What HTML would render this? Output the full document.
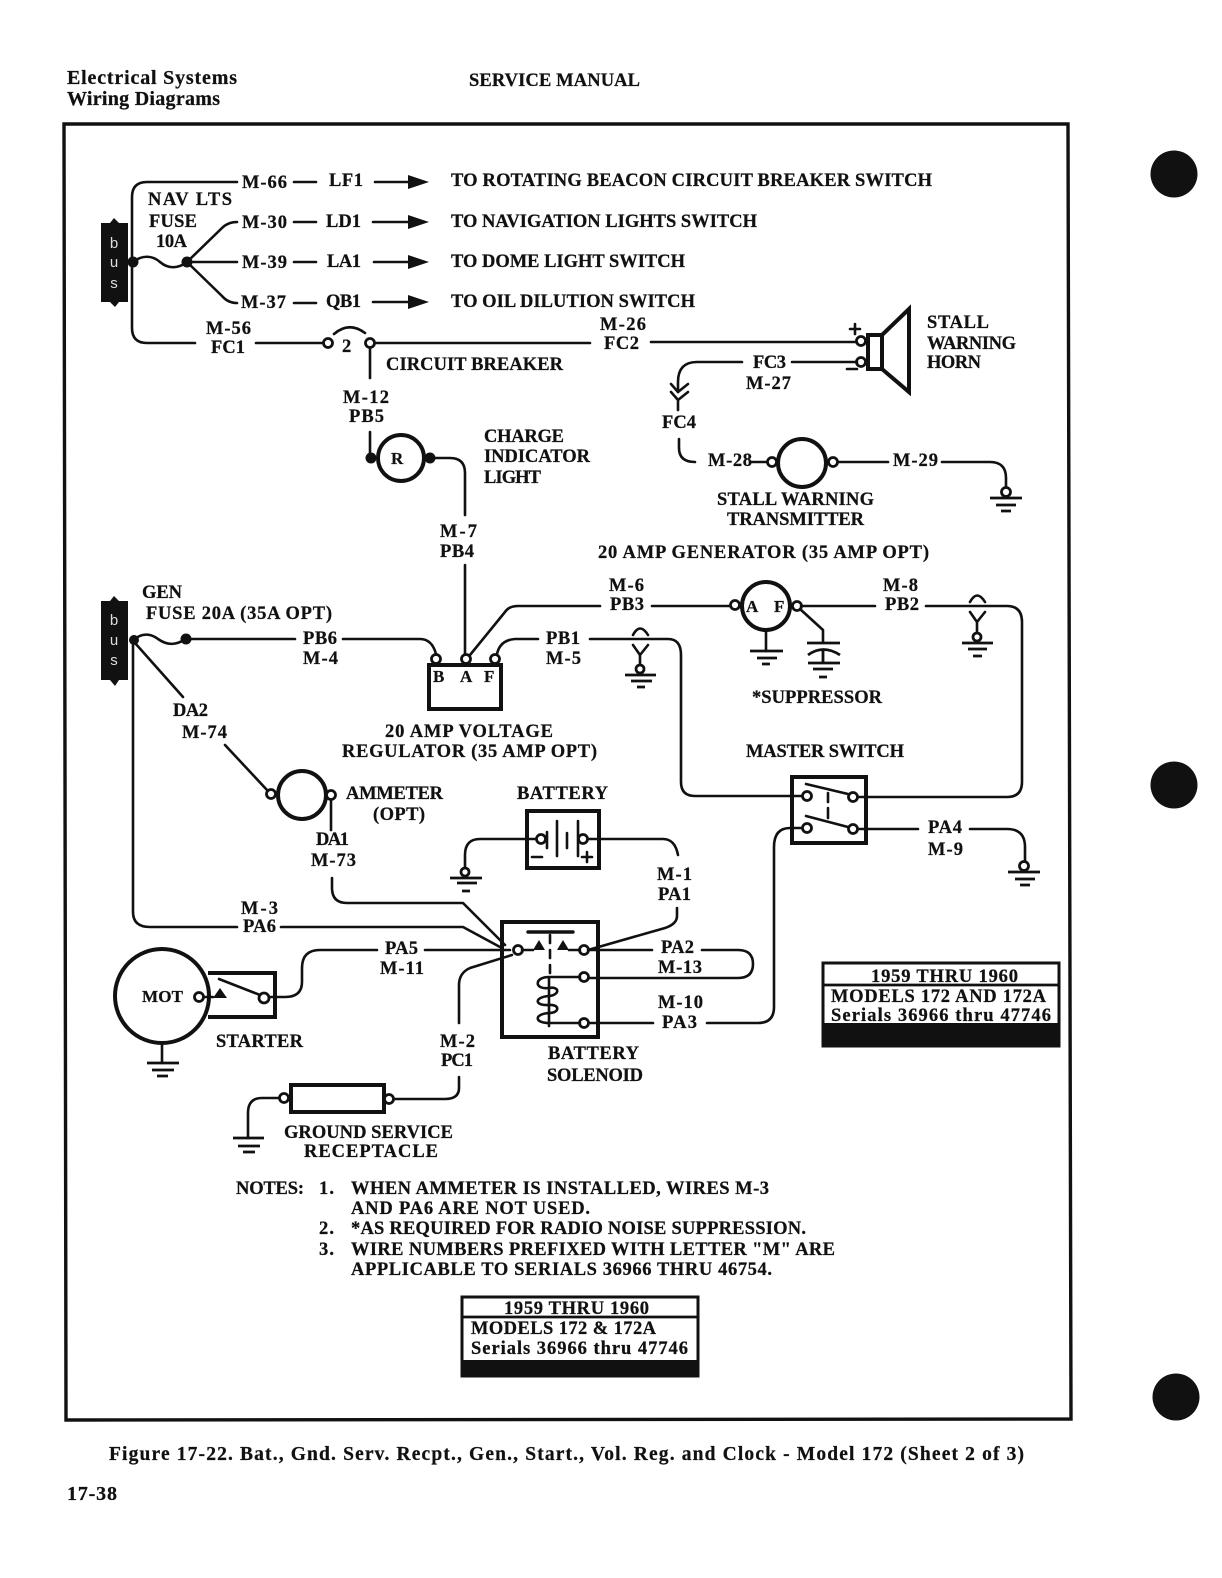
<!DOCTYPE html>
<html><head><meta charset="utf-8"><style>
html,body{margin:0;padding:0;background:#fff}
svg{display:block}
text{font-family:"Liberation Serif",serif;font-weight:bold;font-size:18.5px;fill:#111;stroke:#111;stroke-width:.25}
.w{fill:none;stroke:#111;stroke-width:2.6;stroke-linecap:round;stroke-linejoin:round}
.t{fill:#fff;stroke:#111;stroke-width:2.8}
.b{fill:#111;stroke:none}
.h{fill:none;stroke:#111;stroke-width:4}
.g{fill:none;stroke:#111;stroke-width:2.8}
.s{font-size:17px}
.l{font-size:20px}
text.bus{font-family:"Liberation Sans",sans-serif;font-weight:normal;font-size:15px;fill:#ddd;stroke:none}
</style></head><body>
<svg width="1222" height="1578" viewBox="0 0 1222 1578" xmlns="http://www.w3.org/2000/svg">
<rect width="1222" height="1578" fill="#fff"/>
<text class="l" x="67" y="84" textLength="170">Electrical Systems</text>
<text class="l" x="67" y="105" textLength="153">Wiring Diagrams</text>
<text x="469" y="86" textLength="171">SERVICE MANUAL</text>
<polygon class="h" points="64,124 1068,124 1071,1419 66,1420" style="stroke-width:3.4"/>
<circle class="b" cx="1174" cy="174" r="23.5"/><circle class="b" cx="1174" cy="785" r="23.5"/><circle class="b" cx="1176" cy="1397" r="23.5"/>

<!-- bus 1 -->
<polygon class="b" points="101,223 110,223 114,218 119,223 128,223 128,302 119,302 115,307 110,302 101,302"/>
<text class="bus" x="114" y="248" text-anchor="middle">b</text><text class="bus" x="114" y="267" text-anchor="middle">u</text><text class="bus" x="114" y="288" text-anchor="middle">s</text>
<path class="w" d="M132,262 V197 Q132,182 147,182 H237 M132,262 V328 Q132,343 147,343 H195"/>
<circle class="b" cx="133" cy="262" r="5.5"/>
<path class="w" d="M133,262 C142,255 152,255 160,262 C168,269 178,269 187,262"/>
<circle class="b" cx="187" cy="262" r="5.5"/>
<path class="w" d="M187,262 L222,228 Q228,222 237,222 M187,262 H237 M187,262 L222,296 Q228,303 237,303"/>
<text x="148" y="205" textLength="84">NAV LTS</text><text x="149" y="227" textLength="48">FUSE</text><text x="156" y="247" textLength="31">10A</text>

<text x="242" y="188" textLength="45">M-66</text><path class="w" d="M294,182 H316"/><text x="329" y="186" textLength="34">LF1</text>
<path class="w" d="M375,182 H410"/><polygon class="b" points="408,175 429,182 408,189"/>
<text x="451" y="186" textLength="481">TO ROTATING BEACON CIRCUIT BREAKER SWITCH</text>
<text x="242" y="228" textLength="45">M-30</text><path class="w" d="M294,222 H316"/><text x="326" y="227" textLength="35">LD1</text>
<path class="w" d="M373,222 H410"/><polygon class="b" points="408,215 429,222 408,229"/>
<text x="451" y="227" textLength="306">TO NAVIGATION LIGHTS SWITCH</text>
<text x="242" y="268" textLength="45">M-39</text><path class="w" d="M294,262 H316"/><text x="327" y="267" textLength="34">LA1</text>
<path class="w" d="M374,262 H410"/><polygon class="b" points="408,255 429,262 408,269"/>
<text x="451" y="267" textLength="234">TO DOME LIGHT SWITCH</text>
<text x="241" y="308" textLength="45">M-37</text><path class="w" d="M294,303 H316"/><text x="326" y="307" textLength="35">QB1</text>
<path class="w" d="M373,302 H410"/><polygon class="b" points="408,295 429,302 408,309"/>
<text x="451" y="307" textLength="244">TO OIL DILUTION SWITCH</text>

<!-- breaker line -->
<text x="206" y="334" textLength="45">M-56</text><text x="211" y="353" textLength="34">FC1</text>
<path class="w" d="M256,343 H324"/><circle class="t" cx="328" cy="343" r="4.5"/>
<text x="342" y="352" textLength="10">2</text>
<path class="w" d="M334,334 Q349,321 365,333"/>
<circle class="t" cx="370" cy="343" r="4.5"/>
<path class="w" d="M375,343 H590 M651,342 H857 M370,348 V378"/>
<text x="386" y="370" textLength="177">CIRCUIT BREAKER</text>
<text x="600" y="330" textLength="46">M-26</text><text x="604" y="349" textLength="35">FC2</text>
<text x="343" y="403" textLength="46">M-12</text><text x="349" y="422" textLength="35">PB5</text>
<path class="w" d="M370,432 V458"/><circle class="b" cx="371" cy="458" r="5.5"/>
<circle class="h" cx="401" cy="458" r="23"/><text x="391" y="464" textLength="14" class="s">R</text>
<circle class="b" cx="430" cy="458" r="5.5"/>
<path class="w" d="M430,458 H450 Q465,458 465,473 V515"/>
<text x="484" y="442" textLength="80">CHARGE</text><text x="484" y="462" textLength="106">INDICATOR</text><text x="484" y="483" textLength="57">LIGHT</text>

<!-- horn -->
<circle class="t" cx="861" cy="341" r="4.5"/><circle class="t" cx="861" cy="362" r="4.5"/>
<rect class="h" x="868" y="335" width="14" height="34"/>
<polygon class="h" points="882,335 909,309 909,392 882,369"/>
<path class="w" d="M855,324 V334 M850,329 H860 M847,369 H857"/>
<text x="927" y="328" textLength="62">STALL</text><text x="927" y="349" textLength="89">WARNING</text><text x="927" y="368" textLength="54">HORN</text>
<text x="753" y="368" textLength="33">FC3</text><text x="746" y="389" textLength="45">M-27</text>
<path class="w" d="M792,362 H857 M742,362 H697 Q678,362 678,382 V392"/>
<path class="w" d="M671,384 L678,392 L688,384 M671,392 L678,400 L688,392 M678,400 V410"/>
<text x="662" y="428" textLength="34">FC4</text>
<path class="w" d="M679,439 V448 Q679,462 695,462"/>
<text x="708" y="466" textLength="44">M-28</text>
<path class="w" d="M751,462 H768"/><circle class="t" cx="772" cy="462" r="4.5"/>
<circle class="h" cx="802" cy="463" r="24"/>
<circle class="t" cx="833" cy="462" r="4.5"/>
<path class="w" d="M838,462 H888 M942,462 H990 Q1006,462 1006,478 V487"/>
<text x="893" y="466" textLength="45">M-29</text>
<circle class="t" cx="1006" cy="492" r="4.5"/>
<path class="g" d="M990,498 H1022 M996,505 H1016 M1001,511 H1011"/>
<text x="717" y="505" textLength="157">STALL WARNING</text><text x="727" y="525" textLength="137">TRANSMITTER</text>

<!-- regulator -->
<text x="440" y="537" textLength="37">M-7</text><text x="440" y="557" textLength="34">PB4</text>
<path class="w" d="M465,565 V654"/>
<text x="598" y="558" textLength="331">20 AMP GENERATOR (35 AMP OPT)</text>
<!-- bus 2 -->
<polygon class="b" points="101,601 110,601 114,596 119,601 128,601 128,680 119,680 115,686 110,680 101,680"/>
<text class="bus" x="114" y="625" text-anchor="middle">b</text><text class="bus" x="114" y="645" text-anchor="middle">u</text><text class="bus" x="114" y="665" text-anchor="middle">s</text>
<text x="142" y="598" textLength="40">GEN</text><text x="146" y="619" textLength="186">FUSE 20A (35A OPT)</text>
<circle class="b" cx="134" cy="640" r="5"/>
<path class="w" d="M133,640 C142,633 150,633 158,639 C168,646 176,645 186,639"/><circle class="b" cx="186" cy="639" r="5.5"/>
<path class="w" d="M186,639 H295 M343,639 H420 Q432,639 436,654"/>
<text x="303" y="644" textLength="34">PB6</text><text x="303" y="664" textLength="35">M-4</text>
<circle class="t" cx="436" cy="659" r="4.5"/><circle class="t" cx="466" cy="659" r="4.5"/><circle class="t" cx="495" cy="659" r="4.5"/>
<rect class="h" x="429" y="665" width="72" height="44"/>
<text x="433" y="682" class="s" textLength="13">B</text><text x="460" y="682" class="s" textLength="13">A</text><text x="484" y="682" class="s" textLength="12">F</text>
<path class="w" d="M470,655 L505,612 Q509,606 518,606 H600 M497,654 Q500,640 515,639 H538"/>
<text x="546" y="644" textLength="34">PB1</text><text x="546" y="664" textLength="35">M-5</text>
<path class="w" d="M590,639 H668 Q681,639 681,655 V782 Q681,796 695,796 H803"/>
<path class="w" d="M633,635 Q640,622 648,635 M633,645 L640,655 L648,645 M640,655 V665"/>
<circle class="t" cx="640" cy="669" r="4"/>
<path class="g" d="M625,675 H656 M631,681 H652 M637,687 H645"/>
<text x="385" y="737" textLength="168">20 AMP VOLTAGE</text><text x="342" y="757" textLength="255">REGULATOR (35 AMP OPT)</text>

<!-- generator -->
<text x="609" y="591" textLength="35">M-6</text><text x="610" y="610" textLength="34">PB3</text>
<path class="w" d="M652,606 H731"/><circle class="t" cx="735" cy="605" r="4.5"/>
<circle class="h" cx="766" cy="606" r="24"/>
<text x="746" y="612" class="s" textLength="13">A</text><text x="774" y="612" class="s" textLength="11">F</text>
<circle class="t" cx="797" cy="606" r="4.5"/>
<path class="w" d="M801,606 H875 M926,606 H1007 Q1022,606 1022,622 V782 Q1022,797 1007,797 H858"/>
<text x="883" y="591" textLength="35">M-8</text><text x="885" y="610" textLength="34">PB2</text>
<path class="w" d="M766,630 V651 M800,609 L823,630 V642"/>
<path class="g" d="M750,651 H783 M757,658 H777 M762,664 H770 M807,643 H840 M823,649 V663 M808,663 H840 M813,669 H833 M819,677 H827"/>
<path class="g" d="M808,655 Q823,644 840,655"/>
<path class="w" d="M970,602 Q977,589 985,602 M970,612 L977,622 L985,612 M977,622 V633"/>
<circle class="t" cx="977" cy="637" r="4"/>
<path class="g" d="M962,643 H993 M968,649 H987 M973,656 H982"/>
<text x="752" y="703" textLength="130">*SUPPRESSOR</text>
<text x="746" y="757" textLength="158">MASTER SWITCH</text>

<!-- master switch -->
<rect class="h" x="792" y="777" width="74" height="66"/>
<circle class="t" cx="807" cy="796" r="4.5"/><circle class="t" cx="853" cy="797" r="4.5"/><circle class="t" cx="807" cy="828" r="4.5"/><circle class="t" cx="853" cy="829" r="4.5"/>
<path class="w" d="M806,784 L848,794 M806,816 L848,827 M828,793 V802 M828,808 V818"/>
<path class="w" d="M858,829 H918 M970,829 H1007 Q1025,829 1025,847 V861"/>
<text x="928" y="833" textLength="34">PA4</text><text x="928" y="855" textLength="35">M-9</text>
<circle class="t" cx="1024" cy="866" r="4.5"/>
<path class="g" d="M1008,872 H1040 M1015,879 H1035 M1020,885 H1030"/>

<!-- ammeter -->
<text x="173" y="716" textLength="35">DA2</text><text x="182" y="738" textLength="45">M-74</text>
<path class="w" d="M135,643 L183,697 M225,745 L267,790"/>
<circle class="t" cx="271" cy="794" r="4.5"/><circle class="h" cx="302" cy="795" r="24"/><circle class="t" cx="331" cy="795" r="4.5"/>
<path class="w" d="M331,800 V830"/>
<text x="346" y="799" textLength="97">AMMETER</text><text x="373" y="820" textLength="52">(OPT)</text>
<text x="316" y="845" textLength="33">DA1</text><text x="311" y="866" textLength="45">M-73</text>
<path class="w" d="M332,878 V888 Q332,903 347,903 H463 L505,945"/>
<text x="241" y="914" textLength="37">M-3</text><text x="243" y="932" textLength="33">PA6</text>
<path class="w" d="M133,640 V912 Q133,927 150,927 H237 M281,927 H463 L500,947"/>

<!-- battery -->
<text x="517" y="799" textLength="91">BATTERY</text>
<rect class="h" x="527" y="811" width="72" height="57"/>
<circle class="t" cx="541" cy="839" r="4.5"/><circle class="t" cx="583" cy="839" r="4.5"/>
<path class="w" d="M547,832 V848 M557,821 V856 M567,833 V848 M578,821 V856 M532,857 H542 M582,857 H592 M587,852 V862"/>
<path class="w" d="M536,839 H480 Q465,839 465,855 V868 M588,839 H663 Q675,839 678,855"/>
<circle class="t" cx="465" cy="872" r="4"/>
<path class="g" d="M450,878 H482 M457,883 H477 M462,891 H470"/>
<text x="657" y="880" textLength="35">M-1</text><text x="658" y="900" textLength="33">PA1</text>

<!-- solenoid -->
<rect class="h" x="502" y="922" width="96" height="115"/>
<path class="w" d="M528,932 H573" style="stroke-width:3.4"/>
<polygon class="b" points="539,940 533,950 545,950"/><polygon class="b" points="563,940 557,950 569,950"/>
<circle class="t" cx="518" cy="950" r="4.5"/><circle class="t" cx="584" cy="950" r="4.5"/><circle class="t" cx="584" cy="977" r="4.5"/><circle class="t" cx="584" cy="1023" r="4.5"/>
<path class="w" d="M522,950 H533 M569,950 H580 M550,935 V943 M550,950 V958 M550,965 V973 M550,977 H580 M549,1023 H580"/>
<path class="w" d="M549,977 C534,977 534,990 549,988 C560,986 560,995 549,996 C534,997 534,1006 549,1005 C560,1004 560,1013 549,1013 C534,1014 534,1023 549,1023 M549,977 V1026"/>
<path class="w" d="M677,908 V916 Q677,924 665,928 L588,950 M589,950 H652 M702,950 H738 Q753,950 753,964 Q753,978 738,978 H589 M589,1023 H653 M707,1023 H758 Q774,1023 774,1007 V847 Q774,828 790,828 H802"/>
<text x="661" y="953" textLength="33">PA2</text><text x="658" y="973" textLength="44">M-13</text>
<text x="658" y="1008" textLength="45">M-10</text><text x="662" y="1028" textLength="35">PA3</text>
<text x="548" y="1059" textLength="91">BATTERY</text><text x="547" y="1081" textLength="96">SOLENOID</text>
<path class="w" d="M377,950 H320 Q302,950 302,968 V982 Q302,997 285,997 H268 M425,950 H510"/>
<text x="385" y="954" textLength="33">PA5</text><text x="380" y="974" textLength="44">M-11</text>

<!-- motor / starter -->
<path class="h" d="M208,973 H275 V1017 H208"/>
<circle cx="162" cy="996" r="47" fill="#fff" stroke="#111" stroke-width="4"/>
<text x="142" y="1002" textLength="41" class="s">MOT</text>
<circle class="t" cx="199" cy="997" r="4.5"/><polygon class="b" points="220,988 213,998 227,998"/>
<path class="w" d="M204,997 H213 M219,979 L260,995"/><circle class="t" cx="264" cy="998" r="5"/>
<path class="w" d="M162,1044 V1063"/>
<path class="g" d="M147,1063 H179 M152,1070 H174 M157,1076 H168"/>
<text x="216" y="1047" textLength="87">STARTER</text>
<text x="440" y="1047" textLength="35">M-2</text><text x="441" y="1066" textLength="32">PC1</text>
<path class="w" d="M459,1023 V985 Q459,973 470,968 L512,955 M459,1077 V1088 Q459,1099 445,1099 H394"/>
<rect class="h" x="291" y="1085" width="93" height="27"/>
<circle class="t" cx="284" cy="1098" r="4.5"/><circle class="t" cx="389" cy="1099" r="4.5"/>
<path class="w" d="M279,1098 H262 Q248,1098 248,1113 V1138"/>
<path class="g" d="M233,1138 H264 M238,1146 H260 M243,1152 H255"/>
<text x="284" y="1138" textLength="169">GROUND SERVICE</text><text x="304" y="1157" textLength="134">RECEPTACLE</text>

<!-- notes -->
<text x="236" y="1194" textLength="68">NOTES:</text><text x="319" y="1194" textLength="15">1.</text><text x="351" y="1194" textLength="418">WHEN AMMETER IS INSTALLED, WIRES M-3</text>
<text x="351" y="1214" textLength="239">AND PA6 ARE NOT USED.</text>
<text x="319" y="1234" textLength="15">2.</text><text x="351" y="1234" textLength="455">*AS REQUIRED FOR RADIO NOISE SUPPRESSION.</text>
<text x="319" y="1255" textLength="15">3.</text><text x="351" y="1255" textLength="484">WIRE NUMBERS PREFIXED WITH LETTER "M" ARE</text>
<text x="351" y="1275" textLength="421">APPLICABLE TO SERIALS 36966 THRU 46754.</text>

<!-- boxes -->
<rect x="823" y="963" width="236" height="83" fill="#fff" stroke="#111" stroke-width="3"/>
<rect class="b" x="823" y="1023" width="237" height="23"/>
<path class="g" d="M823,985 H1059"/>
<text x="871" y="982" textLength="147">1959 THRU 1960</text>
<text x="831" y="1002" textLength="215">MODELS 172 AND 172A</text>
<text x="831" y="1021" textLength="220">Serials 36966 thru 47746</text>
<rect x="462" y="1297" width="236" height="79" fill="#fff" stroke="#111" stroke-width="3"/>
<rect class="b" x="462" y="1360" width="237" height="17"/>
<path class="g" d="M462,1317 H698"/>
<text x="504" y="1314" textLength="145">1959 THRU 1960</text>
<text x="471" y="1334" textLength="185">MODELS 172 &amp; 172A</text>
<text x="471" y="1354" textLength="217">Serials 36966 thru 47746</text>

<text x="109" y="1460" textLength="915" style="font-size:19.5px">Figure 17-22. Bat., Gnd. Serv. Recpt., Gen., Start., Vol. Reg. and Clock - Model 172 (Sheet 2 of 3)</text>
<text class="l" x="67" y="1500" textLength="50">17-38</text>
</svg>
</body></html>
